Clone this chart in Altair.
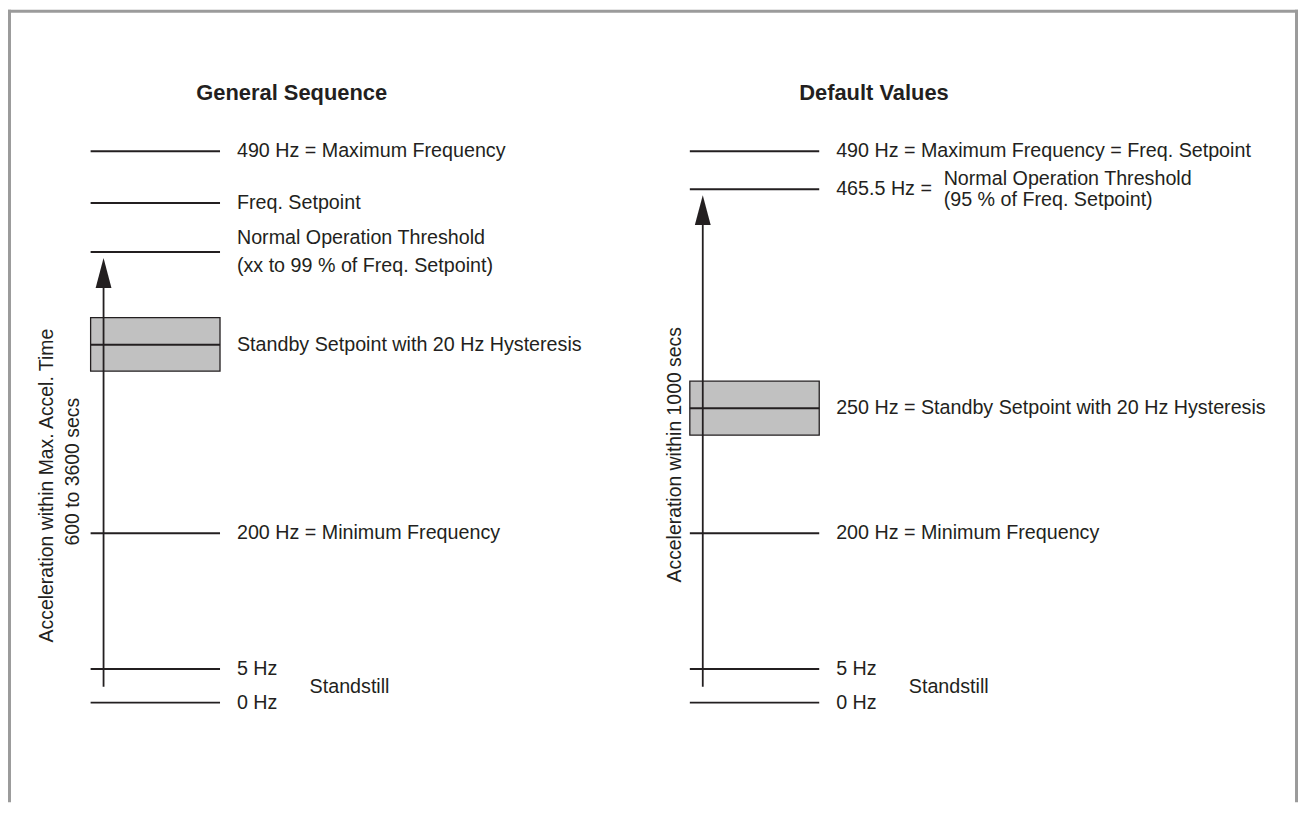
import altair as alt
import pandas as pd

# ------------------------------------------------------------------ data
LEFT_TITLE = "General Sequence"
RIGHT_TITLE = "Default Values"

# schematic level of each marked frequency (diagram units, 0 Hz = 0, 490 Hz = 100)
LEFT_LINE_LABELS = [
    "490 Hz = Maximum Frequency",
    "Freq. Setpoint",
    "Standby Setpoint with 20 Hz Hysteresis",
    "200 Hz = Minimum Frequency",
    "5 Hz",
    "0 Hz",
]
LEFT_LINE_LEVELS = [100, 90.6, 64.9, 30.7, 6.1, 0]
LEFT_THRESHOLD_LABEL = "Normal Operation Threshold\n(xx to 99 % of Freq. Setpoint)"
LEFT_THRESHOLD_LEVEL = 81.7
LEFT_HYSTERESIS_BAND = [60.1, 69.8]
LEFT_ACCEL_LABELS = ["Acceleration within Max. Accel. Time", "600 to 3600 secs"]

RIGHT_LINE_LABELS = [
    "490 Hz = Maximum Frequency = Freq. Setpoint",
    "465.5 Hz =",
    "250 Hz = Standby Setpoint with 20 Hz Hysteresis",
    "200 Hz = Minimum Frequency",
    "5 Hz",
    "0 Hz",
]
RIGHT_LINE_LEVELS = [100, 93.1, 53.4, 30.7, 6.1, 0]
RIGHT_THRESHOLD_LABEL = "Normal Operation Threshold\n(95 % of Freq. Setpoint)"
RIGHT_THRESHOLD_LEVEL = 93.1
RIGHT_HYSTERESIS_BAND = [48.5, 58.3]
RIGHT_ACCEL_LABELS = ["Acceleration within 1000 secs"]

STANDSTILL_LABEL = "Standstill"
STANDSTILL_LEVEL = 2.9

# ------------------------------------------------------------------ style / layout
W, H = 1297, 796
PX_PER_UNIT = 5.54
ZERO_Y = 696
Y_DOMAIN = [-(H - ZERO_Y) / PX_PER_UNIT, ZERO_Y / PX_PER_UNIT]

INK = "#231f20"
BAND_FILL = "#c1c1c1"
BORDER = "#9b9b9b"
FONT = "Liberation Sans"
LABEL_SIZE = 19.8
LINE_LEN = 130
ARROW_PATH = "M0,-1L0.53,1L-0.53,1Z"


def Y(field):
    return alt.Y(field, type="quantitative", scale=alt.Scale(domain=Y_DOMAIN), axis=None)


def panel(x0, line_labels, line_levels, thr_label, thr_level, thr_dx, thr_lh,
          band, title, title_dx, accel_labels, accel_pos, draw_thr_line):
    layers = []
    # hysteresis band
    layers.append(
        alt.Chart(pd.DataFrame({"lo": [band[0]], "hi": [band[1]]}))
        .mark_rect(fill=BAND_FILL, stroke=INK, strokeWidth=1.3)
        .encode(x=alt.value(x0), x2=alt.value(x0 + LINE_LEN), y=Y("lo"), y2=alt.Y2("hi"))
    )
    # level lines
    levels = list(line_levels) + ([thr_level] if draw_thr_line else [])
    layers.append(
        alt.Chart(pd.DataFrame({"level": levels}))
        .mark_rule(color=INK, strokeWidth=2)
        .encode(x=alt.value(x0), x2=alt.value(x0 + LINE_LEN), y=Y("level"))
    )
    # acceleration arrow
    arrow = pd.DataFrame({"lo": [STANDSTILL_LEVEL], "hi": [thr_level]})
    layers.append(
        alt.Chart(arrow)
        .mark_rule(color=INK, strokeWidth=1.8, y2Offset=22)
        .encode(x=alt.value(x0 + 13), y=Y("lo"), y2=alt.Y2("hi"))
    )
    layers.append(
        alt.Chart(arrow)
        .mark_point(shape=ARROW_PATH, filled=True, size=900, opacity=1,
                    color=INK, strokeWidth=0, yOffset=21)
        .encode(x=alt.value(x0 + 13), y=Y("hi"))
    )
    # line labels
    layers.append(
        alt.Chart(pd.DataFrame({"level": line_levels, "label": line_labels}))
        .mark_text(align="left", baseline="middle", font=FONT, fontSize=LABEL_SIZE, color=INK)
        .encode(x=alt.value(x0 + 147), y=Y("level"), text="label:N")
    )
    # threshold (two-line) label, centred on its level
    layers.append(
        alt.Chart(pd.DataFrame({"level": [thr_level], "label": [thr_label]}))
        .mark_text(align="left", baseline="middle", font=FONT, fontSize=LABEL_SIZE,
                   color=INK, lineBreak="\n", lineHeight=thr_lh, dy=-thr_lh / 2)
        .encode(x=alt.value(x0 + thr_dx), y=Y("level"), text="label:N")
    )
    # standstill
    layers.append(
        alt.Chart(pd.DataFrame({"level": [STANDSTILL_LEVEL], "label": [STANDSTILL_LABEL]}))
        .mark_text(align="left", baseline="middle", font=FONT, fontSize=LABEL_SIZE, color=INK)
        .encode(x=alt.value(x0 + 220), y=Y("level"), text="label:N")
    )
    # title
    layers.append(
        alt.Chart(pd.DataFrame({"label": [title]}))
        .mark_text(align="center", baseline="middle", font=FONT, fontSize=22,
                   fontWeight="bold", color=INK)
        .encode(x=alt.value(x0 + title_dx), y=alt.value(84), text="label:N")
    )
    # rotated acceleration labels
    for lab, (dx, yy) in zip(accel_labels, accel_pos):
        layers.append(
            alt.Chart(pd.DataFrame({"label": [lab]}))
            .mark_text(align="center", baseline="middle", font=FONT, fontSize=19.5,
                       angle=270, color=INK)
            .encode(x=alt.value(x0 + dx), y=alt.value(yy), text="label:N")
        )
    return layers


left = panel(83, LEFT_LINE_LABELS, LEFT_LINE_LEVELS, LEFT_THRESHOLD_LABEL,
             LEFT_THRESHOLD_LEVEL, 147, 28, LEFT_HYSTERESIS_BAND, LEFT_TITLE, 202,
             LEFT_ACCEL_LABELS, [(-44, 478), (-18, 464)], True)
right = panel(685, RIGHT_LINE_LABELS, RIGHT_LINE_LEVELS, RIGHT_THRESHOLD_LABEL,
              RIGHT_THRESHOLD_LEVEL, 255, 21, RIGHT_HYSTERESIS_BAND, RIGHT_TITLE, 185,
              RIGHT_ACCEL_LABELS, [(-15, 447)], False)

one = pd.DataFrame({"k": [0]})
border = [
    alt.Chart(one).mark_rule(color=BORDER, strokeWidth=3)
    .encode(x=alt.value(1.5), y=alt.value(0), y2=alt.value(H)),
    alt.Chart(one).mark_rule(color=BORDER, strokeWidth=3)
    .encode(x=alt.value(0), x2=alt.value(W - 1), y=alt.value(1.5)),
    alt.Chart(one).mark_rule(color=BORDER, strokeWidth=3)
    .encode(x=alt.value(W - 2.5), y=alt.value(0), y2=alt.value(H)),
]

chart = (
    alt.layer(*border, *left, *right)
    .properties(width=W, height=H, padding=0, autosize="none", background="white")
    .configure_view(stroke=None)
)

chart.save("out.html", embed_options={"renderer": "svg", "actions": False})
